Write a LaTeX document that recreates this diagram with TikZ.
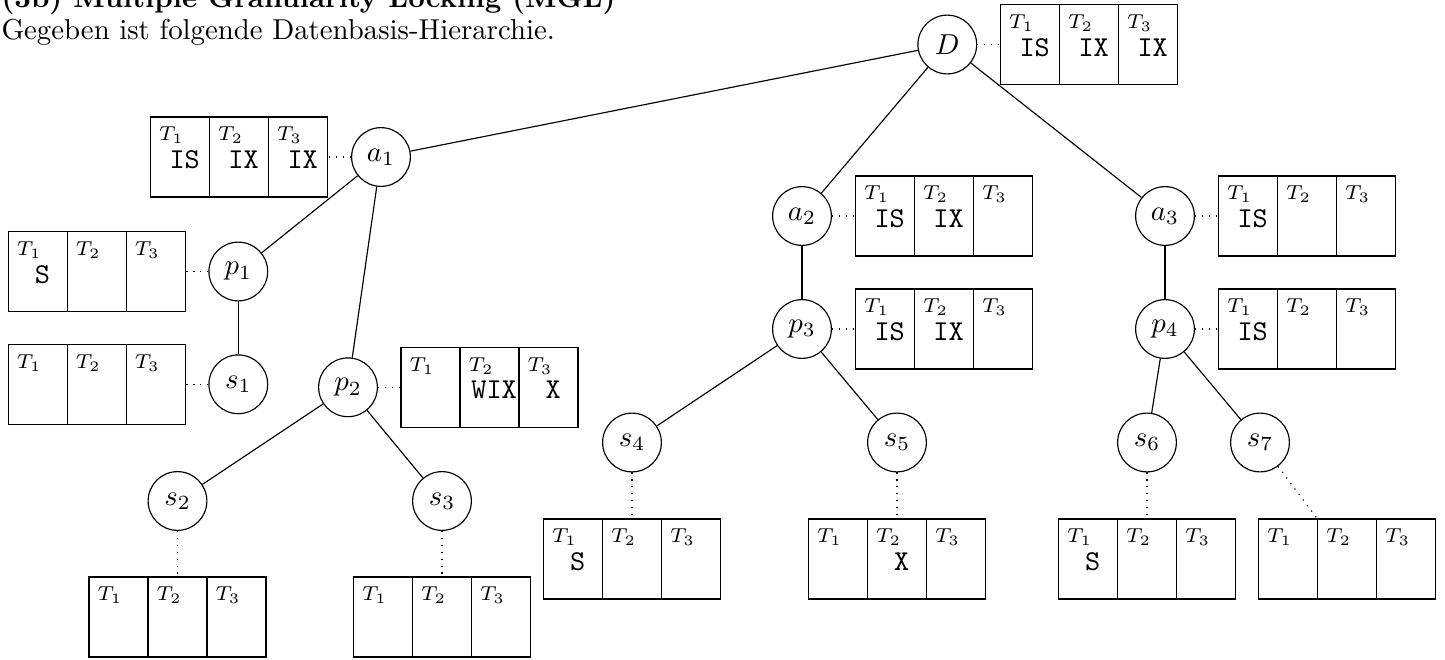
\documentclass[tikz,border=0pt]{standalone}
\tikzset{
  vtx/.style={circle, draw, minimum size=20.4pt, inner sep=0pt},
  tbl/.style={draw, rectangle, minimum width=61.46pt, minimum height=27.78pt, inner sep=0pt, outer sep=0pt},
  tlab/.style={font=\scriptsize, inner sep=0pt, anchor=north west},
  lock/.style={font=\ttfamily, inner sep=0pt},
  link/.style={dotted},
  txt/.style={anchor=base west, inner sep=0pt},
}
\newcommand\locktab[4]{%
  \draw ([xshift=20.49pt]#1.north west) -- ([xshift=20.49pt]#1.south west);
  \draw ([xshift=40.97pt]#1.north west) -- ([xshift=40.97pt]#1.south west);
  \node[tlab] (#1-t1) at ([xshift=2.8pt,yshift=-3.3pt]#1.north west) {$T_1$};
  \node[tlab] (#1-t2) at ([xshift=23.29pt,yshift=-3.3pt]#1.north west) {$T_2$};
  \node[tlab] (#1-t3) at ([xshift=43.77pt,yshift=-3.3pt]#1.north west) {$T_3$};
  \node[lock] (#1-l1) at ([xshift=11.85pt,yshift=-1pt]#1.west) {#2};
  \node[lock] (#1-l2) at ([xshift=32.33pt,yshift=-1pt]#1.west) {#3};
  \node[lock] (#1-l3) at ([xshift=52.82pt,yshift=-1pt]#1.west) {#4};
}
\begin{document}
\begin{tikzpicture}[x=0.34722pt, y=-0.34722pt]
\useasboundingbox (0,0) rectangle (1445,659);

\node[txt, font=\bfseries] (title) at (1,7) {(3b) Multiple Granularity Locking (MGL)};
\node[txt] (intro) at (1,39) {Gegeben ist folgende Datenbasis-Hierarchie.};

% vertices
\node[vtx] (D)  at (947.3,44.5) {$D$};
\node[vtx] (a1) at (381,157) {$a_1$};
\node[vtx] (p1) at (238.3,271.5) {$p_1$};
\node[vtx] (s1) at (238.3,384.3) {$s_1$};
\node[vtx] (p2) at (348,387.3) {$p_2$};
\node[vtx] (s2) at (177.5,501) {$s_2$};
\node[vtx] (s3) at (442,501) {$s_3$};
\node[vtx] (a2) at (802,216) {$a_2$};
\node[vtx] (p3) at (802,329) {$p_3$};
\node[vtx] (s4) at (632,442.5) {$s_4$};
\node[vtx] (s5) at (897,442.5) {$s_5$};
\node[vtx] (a3) at (1165,216) {$a_3$};
\node[vtx] (p4) at (1165,329) {$p_4$};
\node[vtx] (s6) at (1147,442.5) {$s_6$};
\node[vtx] (s7) at (1260,442.5) {$s_7$};

% lock tables
\node[tbl] (Dt)  at (1089,44.5) {};
\node[tbl] (a1t) at (239,157) {};
\node[tbl] (p1t) at (96.7,271.5) {};
\node[tbl] (s1t) at (96.7,384.3) {};
\node[tbl] (p2t) at (489.5,387.3) {};
\node[tbl] (s2t) at (177.5,617) {};
\node[tbl] (s3t) at (442,617) {};
\node[tbl] (a2t) at (944,216) {};
\node[tbl] (p3t) at (944,329) {};
\node[tbl] (s4t) at (632,559) {};
\node[tbl] (s5t) at (897,559) {};
\node[tbl] (a3t) at (1307,216) {};
\node[tbl] (p4t) at (1307,329) {};
\node[tbl] (s6t) at (1147,559) {};
\node[tbl] (s7t) at (1347,559) {};

\locktab{Dt}{IS}{IX}{IX}
\locktab{a1t}{IS}{IX}{IX}
\locktab{p1t}{S}{}{}
\locktab{s1t}{}{}{}
\locktab{p2t}{}{WIX}{X}
\locktab{s2t}{}{}{}
\locktab{s3t}{}{}{}
\locktab{a2t}{IS}{IX}{}
\locktab{p3t}{IS}{IX}{}
\locktab{s4t}{S}{}{}
\locktab{s5t}{}{X}{}
\locktab{a3t}{IS}{}{}
\locktab{p4t}{IS}{}{}
\locktab{s6t}{S}{}{}
\locktab{s7t}{}{}{}

% tree edges
\draw (D) -- (a1);
\draw (D) -- (a2);
\draw (D) -- (a3);
\draw (a1) -- (p1);
\draw (a1) -- (p2);
\draw (p1) -- (s1);
\draw (p2) -- (s2);
\draw (p2) -- (s3);
\draw (a2) -- (p3);
\draw (p3) -- (s4);
\draw (p3) -- (s5);
\draw (a3) -- (p4);
\draw (p4) -- (s6);
\draw (p4) -- (s7);

% dotted links to lock tables
\coordinate (s7a) at ([xshift=-10.24pt]s7t.north);
\draw[link] (D) -- (Dt);
\draw[link] (a1) -- (a1t);
\draw[link] (p1) -- (p1t);
\draw[link] (s1) -- (s1t);
\draw[link] (p2) -- (p2t);
\draw[link] (s2) -- (s2t);
\draw[link] (s3) -- (s3t);
\draw[link] (a2) -- (a2t);
\draw[link] (p3) -- (p3t);
\draw[link] (s4) -- (s4t);
\draw[link] (s5) -- (s5t);
\draw[link] (a3) -- (a3t);
\draw[link] (p4) -- (p4t);
\draw[link] (s6) -- (s6t);
\draw[link] (s7) -- (s7a);
\end{tikzpicture}
\end{document}
